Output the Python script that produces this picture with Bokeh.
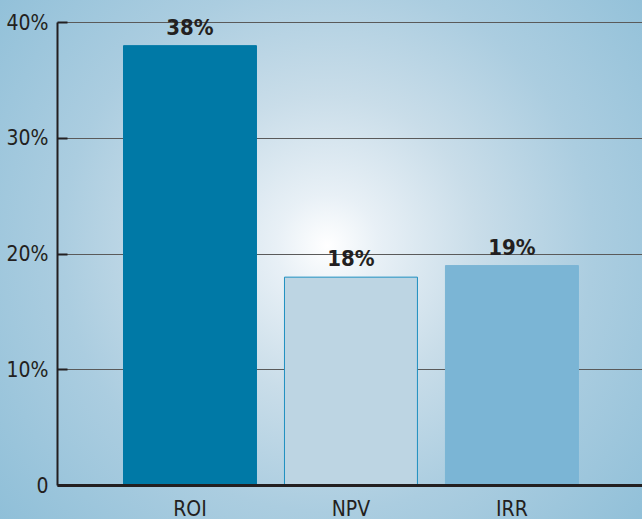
from bokeh.plotting import figure
from bokeh.models import Range1d, FixedTicker, ColumnDataSource, LabelSet
from bokeh.core.properties import value
from bokeh.embed import file_html
from bokeh.resources import INLINE

categories = ["ROI", "NPV", "IRR"]
values = [38, 18, 19]
value_labels = ["38%", "18%", "19%"]
y_ticks = [0, 10, 20, 30, 40]
y_tick_labels = {0: "0", 10: "10%", 20: "20%", 30: "30%", 40: "40%"}

fill_colors = ["#0079a6", "#bdd5e3", "#7bb5d5"]
line_colors = ["#0079a6", "#1e8fc0", "#7bb5d5"]

FONT = "DejaVu Sans Condensed"

xs = list(range(len(categories)))
src = ColumnDataSource(dict(x=xs, top=values, fill=fill_colors, line=line_colors,
                            label=value_labels))

# frame spans from the top of the figure; 40% sits 22px below it
y_top = 40 + 22 / (463 / 40)
p = figure(width=642, height=519, output_backend="svg", toolbar_location=None,
           x_range=Range1d(-0.823, 2.811), y_range=Range1d(0, y_top),
           min_border_left=57, min_border_top=0, min_border_right=0, min_border_bottom=34)
p.frame_width = 585
p.frame_height = 485
p.styles = {"background": "radial-gradient(circle at 51% 47%, #ffffff 0%, #e8f0f6 12%, #c9dde9 35%, #abcde0 62%, #8fbfd8 100%)"}
p.border_fill_color = None
p.background_fill_color = None
p.outline_line_color = None

p.vbar(x="x", top="top", bottom=0, width=0.826, fill_color="fill", line_color="line",
       line_width=1, source=src)

labels = LabelSet(x="x", y="top", text="label", source=src, text_align="center",
                  text_baseline="alphabetic", y_offset=11, text_font=value(FONT),
                  text_font_style="bold", text_font_size="22px", text_color="#231f20")
p.add_layout(labels)

p.xgrid.grid_line_color = None
p.ygrid.ticker = FixedTicker(ticks=y_ticks)
p.ygrid.grid_line_color = "#5a5a5a"
p.ygrid.grid_line_width = 1

ya = p.yaxis[0]
ya.ticker = FixedTicker(ticks=y_ticks)
ya.bounds = (0, 40)
ya.major_label_overrides = y_tick_labels
ya.axis_line_color = "#231f20"
ya.axis_line_width = 2
ya.major_tick_in = 10
ya.major_tick_out = 0
ya.major_tick_line_color = "#231f20"
ya.major_tick_line_width = 2
ya.minor_tick_line_color = None
ya.major_label_standoff = 9
ya.major_label_text_font = FONT
ya.major_label_text_font_size = "21px"
ya.major_label_text_color = "#231f20"

xa = p.xaxis[0]
xa.ticker = FixedTicker(ticks=xs)
xa.major_label_overrides = {i: c for i, c in zip(xs, categories)}
xa.axis_line_color = "#231f20"
xa.axis_line_width = 3
xa.major_tick_line_color = None
xa.minor_tick_line_color = None
xa.major_label_standoff = 5
xa.major_label_text_font = FONT
xa.major_label_text_font_size = "21px"
xa.major_label_text_color = "#231f20"

open("out.html", "w").write(file_html(p, INLINE))
